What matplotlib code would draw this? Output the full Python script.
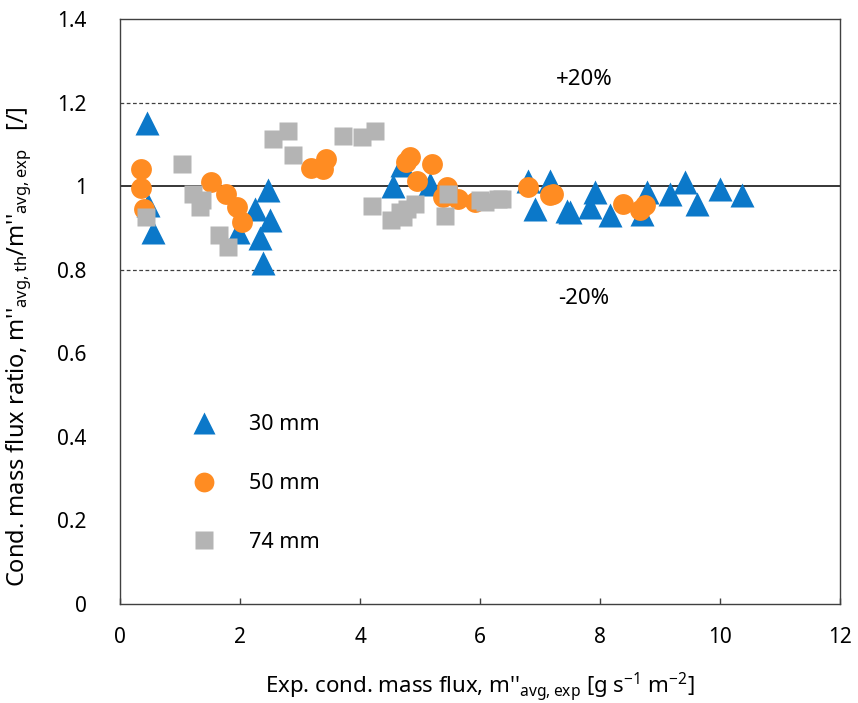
import numpy as np
import matplotlib
matplotlib.use("Agg")
import matplotlib.pyplot as plt

plt.rcParams['font.family'] = ['Noto Sans', 'DejaVu Sans']
plt.rcParams['mathtext.default'] = 'regular'

# 30 mm tube (triangles)
x_30 = [0.45, 0.47, 0.55, 1.97, 2.25, 2.47, 2.50, 2.33, 2.38,
        4.55, 4.70, 5.17, 6.80, 6.92, 7.17, 7.45, 7.50, 7.83, 7.92,
        8.17, 8.70, 8.78, 9.17, 9.42, 9.62, 10.00, 10.37]
y_30 = [1.150, 0.955, 0.890, 0.890, 0.945, 0.990, 0.920, 0.875, 0.815,
        1.000, 1.050, 1.005, 1.012, 0.946, 1.013, 0.940, 0.938, 0.950, 0.986,
        0.930, 0.933, 0.986, 0.980, 1.010, 0.957, 0.993, 0.978]

# 50 mm tube (circles)
x_50 = [0.35, 0.35, 0.40, 1.52, 1.77, 1.95, 2.03, 3.18, 3.38, 3.43,
        4.77, 4.83, 4.95, 5.20, 5.38, 5.45, 5.63, 5.92,
        6.80, 7.17, 7.22, 8.38, 8.67, 8.75]
y_50 = [1.040, 0.995, 0.945, 1.010, 0.980, 0.950, 0.914, 1.043, 1.040, 1.065,
        1.057, 1.070, 1.012, 1.053, 0.974, 0.998, 0.970, 0.962,
        0.998, 0.978, 0.980, 0.958, 0.943, 0.955]

# 74 mm tube (squares)
x_74 = [0.43, 1.03, 1.22, 1.33, 1.37, 1.65, 1.80, 2.55, 2.80, 2.88,
        3.72, 4.03, 4.25, 4.20, 4.52, 4.67, 4.72, 4.78, 4.92, 5.42, 5.47,
        6.00, 6.08, 6.30, 6.37]
y_74 = [0.926, 1.052, 0.980, 0.950, 0.967, 0.883, 0.855, 1.112, 1.133, 1.074,
        1.121, 1.117, 1.133, 0.952, 0.919, 0.938, 0.926, 0.945, 0.957, 0.929, 0.981,
        0.967, 0.962, 0.969, 0.969]

x_ticks = [0, 2, 4, 6, 8, 10, 12]
y_ticks = [0, 0.2, 0.4, 0.6, 0.8, 1.0, 1.2, 1.4]
y_tick_labels = ['0', '0.2', '0.4', '0.6', '0.8', '1', '1.2', '1.4']

blue = '#0B78C9'
orange = '#FF8C22'
gray = '#B4B4B4'

fig = plt.figure(figsize=(8.58, 7.03), dpi=100)
ax = fig.add_axes([0.140, 0.141, 0.839, 0.832])

# reference lines
ax.axhline(1.0, color='black', lw=1.1, zorder=1)
ax.axhline(1.2, color='#404040', lw=0.9, ls=(0, (3, 2)), zorder=1)
ax.axhline(0.8, color='#404040', lw=0.9, ls=(0, (3, 2)), zorder=1)

ax.plot(x_30, y_30, ls='none', marker='^', ms=17, color=blue, mec='none', label='30 mm', zorder=3)
ax.plot(x_50, y_50, ls='none', marker='o', ms=15, color=orange, mec='none', label='50 mm', zorder=4)
ax.plot(x_74, y_74, ls='none', marker='s', ms=13, color=gray, mec='none', label='74 mm', zorder=5)

ax.text(7.73, 1.255, '+20%', fontsize=16, ha='center', va='center')
ax.text(7.73, 0.731, '-20%', fontsize=16, ha='center', va='center')

ax.set_xlim(0, 12)
ax.set_ylim(0, 1.4)
ax.set_xticks(x_ticks)
ax.set_yticks(y_ticks)
ax.set_yticklabels(y_tick_labels)
ax.tick_params(axis='x', direction='in', length=4, width=1, color='#404040', labelsize=15, pad=17)
ax.tick_params(axis='y', length=0, labelsize=15, pad=24)

for sp in ax.spines.values():
    sp.set_color('#404040')
    sp.set_linewidth(1.0)

ax.set_xlabel("Exp. cond. mass flux, m''$_{avg,exp}$ [g s$^{-1}$ m$^{-2}$]", fontsize=16, labelpad=16)
ax.set_ylabel("Cond. mass flux ratio, m''$_{avg,th}$/m''$_{avg,exp}$   [/]", fontsize=17, labelpad=14)
ax.yaxis.set_label_coords(-0.12, 0.44)

ax.legend(loc='upper left', bbox_to_anchor=(0.06, 0.357), frameon=False, fontsize=15.5,
          labelspacing=1.75, handletextpad=1.1, markerscale=0.95)

fig.savefig('out.png', dpi=100)
